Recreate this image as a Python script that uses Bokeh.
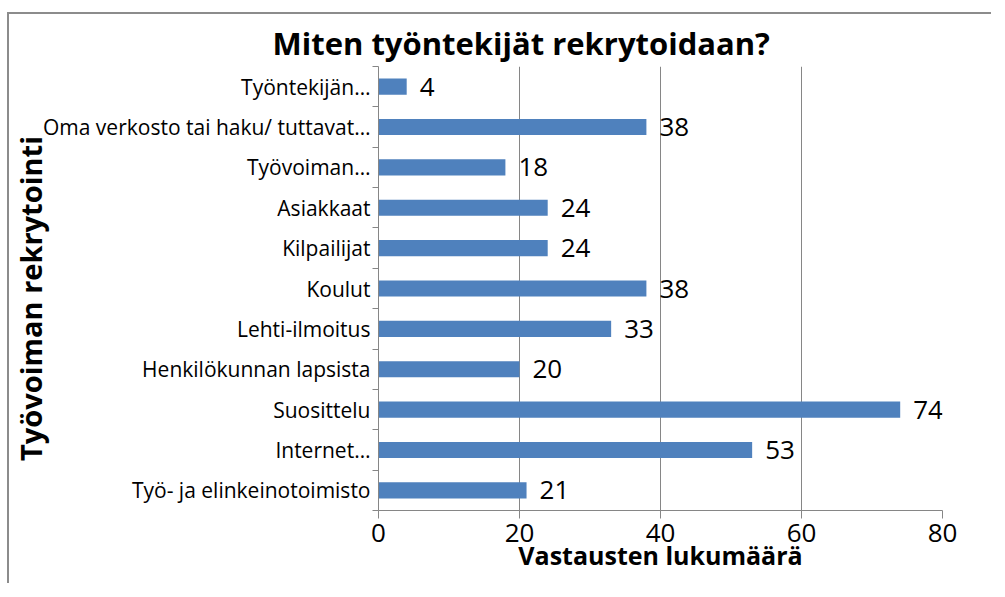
import numpy as np
from bokeh.plotting import figure
from bokeh.models import Range1d, FixedTicker, ColumnDataSource, LabelSet, Label, Title, InlineStyleSheet
from bokeh.core.properties import value
from bokeh.embed import file_html
from bokeh.resources import INLINE

categories = ["Työ- ja elinkeinotoimisto", "Internet…", "Suosittelu", "Henkilökunnan lapsista",
              "Lehti-ilmoitus", "Koulut", "Kilpailijat", "Asiakkaat", "Työvoiman…",
              "Oma verkosto tai haku/ tuttavat…", "Työntekijän…"]
values = [21, 53, 74, 20, 33, 38, 24, 24, 18, 38, 4]
x_ticks = [0, 20, 40, 60, 80]
title_text = "Miten työntekijät rekrytoidaan?"
x_title = "Vastausten lukumäärä"
y_title = "Työvoiman rekrytointi"

FONT = "Open Sans"
GRAY = "#868686"
BLUE = "#4F81BD"

n = len(categories)
pos = list(np.arange(n) + 0.5)

p = figure(width=989, height=581, output_backend="svg", toolbar_location=None,
           x_range=Range1d(0, 80), y_range=Range1d(0, n), title=None,
           min_border_left=378, min_border_right=47, min_border_top=66, min_border_bottom=71)
p.outline_line_color = None
p.background_fill_color = "white"
p.border_fill_color = "white"

src = ColumnDataSource(dict(y=pos, v=values, lab=[str(v) for v in values]))
p.hbar(y="y", right="v", left=0, height=0.4, source=src, fill_color=BLUE, line_color=None)

p.add_layout(LabelSet(x="v", y="y", text="lab", source=src, x_offset=13,
                      text_baseline="middle", text_align="left",
                      text_font=value(FONT), text_font_size=value("26px"), text_color="black"))

# x axis
xa = p.xaxis[0]
xa.ticker = FixedTicker(ticks=x_ticks, minor_ticks=[])
xa.axis_line_color = GRAY
xa.major_tick_line_color = GRAY
xa.major_tick_out = 8
xa.major_tick_in = 0
xa.minor_tick_line_color = None
xa.major_label_text_font = FONT
xa.major_label_text_font_size = "26px"
xa.major_label_text_color = "black"
xa.major_label_standoff = 5
xa.axis_label = x_title
xa.axis_label_text_font = FONT
xa.axis_label_text_font_style = "bold"
xa.axis_label_text_font_size = "25px"
xa.axis_label_text_color = "black"
xa.axis_label_standoff = -7

# y axis
ya = p.yaxis[0]
ya.ticker = FixedTicker(ticks=pos, minor_ticks=list(range(n + 1)))
ya.major_label_overrides = {float(k): c for k, c in zip(pos, categories)}
ya.axis_line_color = GRAY
ya.major_tick_line_color = None
ya.major_tick_out = 6
ya.major_tick_in = 0
ya.minor_tick_line_color = GRAY
ya.minor_tick_out = 6
ya.minor_tick_in = 0
ya.major_label_text_font = FONT
ya.major_label_text_font_size = "21px"
ya.major_label_text_color = "black"
ya.major_label_standoff = 2

p.ygrid.grid_line_color = None
p.xgrid.grid_line_color = GRAY
p.xgrid.grid_line_width = 1

p.add_layout(Title(text=title_text, align="left", offset=-106, standoff=6,
                   text_font=FONT, text_font_style="bold", text_font_size="31px",
                   text_color="black"), "above")

p.add_layout(Label(x=30, y=298, x_units="canvas", y_units="canvas", text=y_title,
                   angle=np.pi / 2, text_align="center", text_baseline="alphabetic",
                   text_font=FONT, text_font_style="bold", text_font_size="29px",
                   text_color="black"), "left")

p.stylesheets = [InlineStyleSheet(css=(
    ":host::after { content: ''; position: absolute; left: 7px; top: 12px; width: 982px; height: 569px;"
    " border-left: 2px solid #8c8c8c; border-top: 2px solid #8c8c8c; pointer-events: none; }"))]

open("out.html", "w").write(file_html(p, INLINE))
